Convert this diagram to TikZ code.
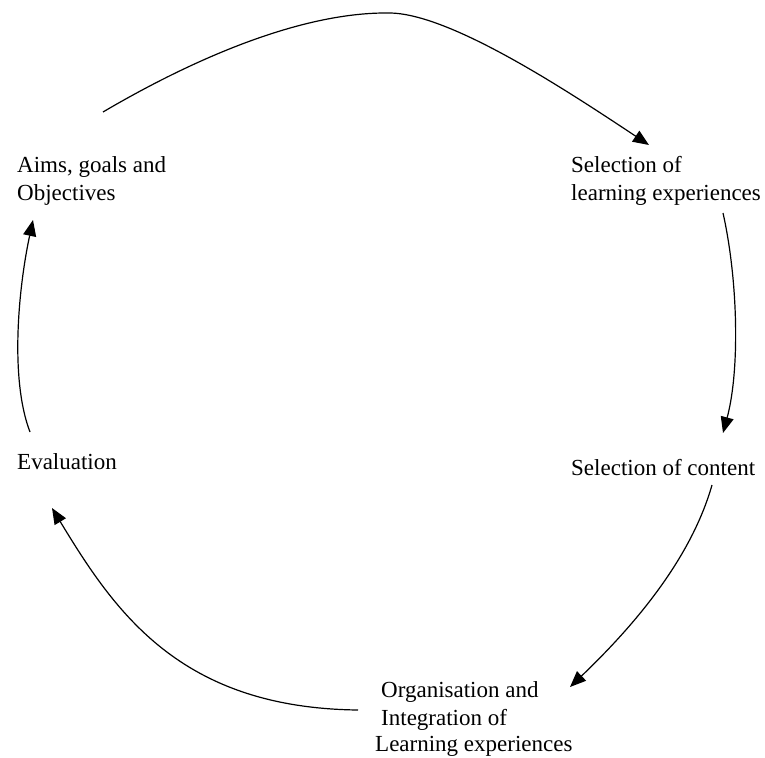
\documentclass[tikz,border=0pt]{standalone}
\usepackage{fontspec}
\setmainfont{Liberation Serif}
\usetikzlibrary{arrows.meta}
\begin{document}
\begin{tikzpicture}[x=1pt,y=-1pt,
  lbl/.style={anchor=north west,inner sep=0pt,align=left,font=\fontsize{23}{28}\selectfont},
  conn/.style={line width=1.2pt,-{Triangle[length=16pt,width=13pt]}}]
\useasboundingbox (0,0) rectangle (765,757);
% labels (north west = first baseline - strut height 19.6)
\node[lbl] (aims) at (17,152.4) {\strut Aims, goals and\\Objectives};
\node[lbl] (sel1) at (571,152.4) {\strut Selection of\\learning experiences};
\node[lbl] (sel2) at (571,455.4) {\strut Selection of content};
\node[lbl] (eval) at (17,449.4) {\strut Evaluation};
\node[lbl] (org) at (375,677.4) {\strut\hspace*{6pt}Organisation and\\\hspace*{6pt}Integration of\\[-2pt]Learning experiences};
% connector end points
\coordinate (a1) at (103,112);
\coordinate (a1p) at (389,13);
\coordinate (a1t) at (649,145);
\coordinate (a2) at (723,213);
\coordinate (a2t) at (723,433);
\coordinate (a3) at (712,485);
\coordinate (a3t) at (570,687);
\coordinate (a4) at (358,710);
\coordinate (a4t) at (52,508);
\coordinate (a5) at (30,432);
\coordinate (a5t) at (33,220);
% connectors
\draw[conn] (a1) .. controls (200,55) and (305,12) .. (a1p)
  .. controls (450,13) and (569,92) .. (a1t);
\draw[conn] (a2) .. controls (738,280) and (740,370) .. (a2t);
\draw[conn] (a3) .. controls (692,555) and (640,620) .. (a3t);
\draw[conn] (a4) .. controls (180,708) and (115,612) .. (a4t);
\draw[conn] (a5) .. controls (10,380) and (18,290) .. (a5t);
\end{tikzpicture}
\end{document}
